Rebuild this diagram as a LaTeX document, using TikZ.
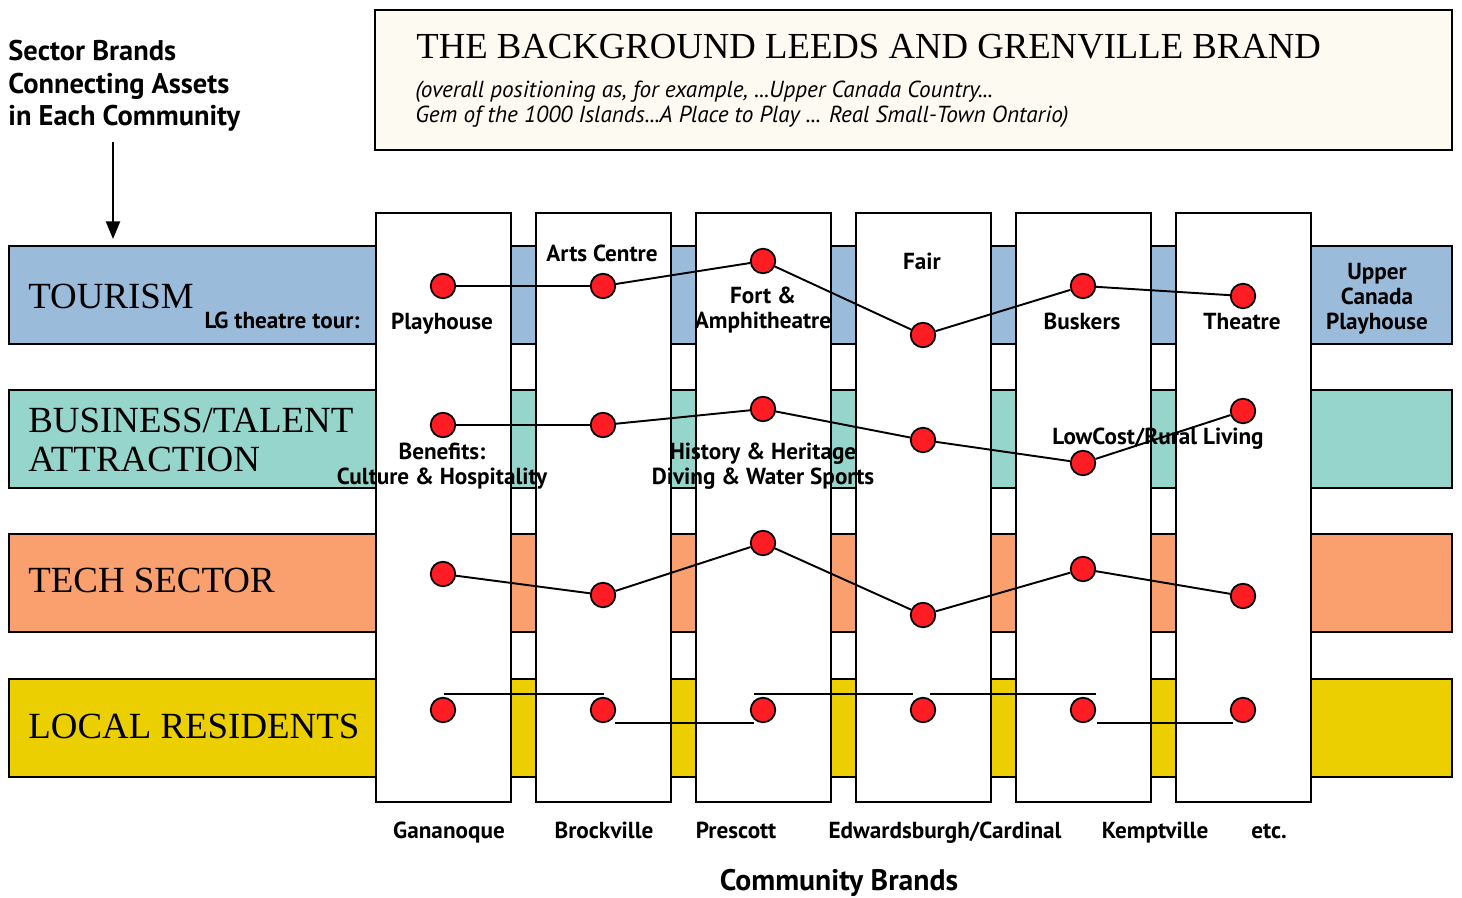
\documentclass[tikz,border=0pt]{standalone}
\usepackage{fontspec}
\setmainfont{PT Sans}
\newfontfamily\capsfont{Liberation Serif}
\usetikzlibrary{positioning, arrows, arrows.meta}

\definecolor{tourblue}{HTML}{9BBBDB}
\definecolor{bizteal}{HTML}{96D5CB}
\definecolor{techorange}{HTML}{F9A06E}
\definecolor{localyellow}{HTML}{EBCF00}
\definecolor{dotred}{HTML}{FF1C22}
\definecolor{paper}{HTML}{FCFAF1}

\newcommand{\capsize}{\capsfont\fontsize{21}{22}\selectfont}
\newcommand{\lblsize}{\bfseries\fontsize{13.2}{14}\selectfont}

\begin{document}
\begin{tikzpicture}[x=0.02cm, y=-0.02cm,
    band/.style={draw=black, line width=1.4pt},
    column/.style={draw=black, fill=white, line width=1.4pt},
    dot/.style={circle, draw=black, fill=dotred, line width=1pt, minimum size=14pt, inner sep=0pt},
    link/.style={black, line width=1.1pt},
    lbl/.style={font=\lblsize, inner sep=0pt, align=center, anchor=base},
    sector/.style={font=\capsize, inner sep=0pt, anchor=base west, align=left},
    town/.style={font=\lblsize, inner sep=0pt, anchor=base}]
    \useasboundingbox (0,0) rectangle (1462,898);
    %\draw[help lines] (0,0) grid[step=50] (1462,898);

    % title box
    \draw[band, fill=paper] (375,10) rectangle (1452,150);
    \node[anchor=base west, inner sep=0pt, font=\capsfont\fontsize{20.9}{24}\selectfont] (title)
        at (416,59) {THE BACKGROUND LEEDS AND GRENVILLE BRAND};
    \node[anchor=base west, inner sep=0pt, align=left, font=\itshape\fontsize{13.2}{14.7}\selectfont] (subtitle)
        at (415,123) {(overall positioning as, for example, ...Upper Canada Country...\\
        Gem of the 1000 Islands...A Place to Play ... Real Small-Town Ontario)};

    \node[anchor=base west, inner sep=0pt, align=left, font=\bfseries\fontsize{16.2}{18.6}\selectfont] (sectors)
        at (8,126) {Sector Brands\\Connecting Assets\\in Each Community};
    \coordinate (arrtop) at (113,142);
    \coordinate (arrbot) at (113,239);
    \draw[line width=1.1pt, -{Triangle[length=10pt, width=8pt]}] (arrtop) -- (arrbot);

    % sector bands
    \foreach \y/\c in {246/tourblue, 390/bizteal, 534/techorange, 679/localyellow}
    {%
        \draw[band, fill=\c] (9,\y) rectangle (1452,\y+98);
    }
    % community columns
    \foreach \i in {0,...,5}
    {%
        \pgfmathsetmacro{\xl}{376+160*\i}
        \pgfmathsetmacro{\xr}{\xl+135}
        \draw[column] (\xl,213) rectangle (\xr,802);
    }

    \node[sector] (tourism) at (28,308) {TOURISM};
    \node[sector] (business) at (28,471) {BUSINESS/TALENT\\ATTRACTION};
    \node[sector] (tech) at (28,592) {TECH SECTOR};
    \node[sector] (local) at (28,738) {LOCAL RESIDENTS};
    \node[lbl, anchor=base east] (tour) at (360,328) {LG theatre tour:};

    % asset dots
    \foreach \i/\y in {1/286, 2/286, 3/261, 4/335, 5/286, 6/296}
        \node[dot] (t\i) at ({443+160*(\i-1)},\y) {};
    \foreach \i/\y in {1/425, 2/425, 3/409, 4/440, 5/463, 6/411}
        \node[dot] (b\i) at ({443+160*(\i-1)},\y) {};
    \foreach \i/\y in {1/574, 2/595, 3/543, 4/615, 5/569, 6/596}
        \node[dot] (s\i) at ({443+160*(\i-1)},\y) {};
    \foreach \i in {1,...,6}
        \node[dot] (r\i) at ({443+160*(\i-1)},710) {};

    \draw[link] (t1) -- (t2) -- (t3) -- (t4) -- (t5) -- (t6);
    \draw[link] (b1) -- (b2) -- (b3) -- (b4) -- (b5) -- (b6);
    \draw[link] (s1) -- (s2) -- (s3) -- (s4) -- (s5) -- (s6);
    \draw[link] ([shift={(1,-16)}]r1.center) -- ([shift={(1,-16)}]r2.center);
    \draw[link] ([shift={(12,13)}]r2.center) -- ([shift={(-9,13)}]r3.center);
    \draw[link] ([shift={(-9,-16)}]r3.center) -- ([shift={(-10,-16)}]r4.center);
    \draw[link] ([shift={(7,-16)}]r4.center) -- ([shift={(13,-16)}]r5.center);
    \draw[link] ([shift={(14,13)}]r5.center) -- ([shift={(-10,13)}]r6.center);

    % asset names
    \node[lbl] (playhouse) at (442,329) {Playhouse};
    \node[lbl] (arts) at (602,261) {Arts Centre};
    \node[lbl] (fort) at (763,328) {Fort \&\\Amphitheatre};
    \node[lbl] (fair) at (922,270) {Fair};
    \node[lbl] (buskers) at (1082,329) {Buskers};
    \node[lbl] (theatre) at (1242,329) {Theatre};
    \node[lbl] (upper) at (1377,329) {Upper\\Canada\\Playhouse};
    \node[lbl] (benefits) at (442,484) {Benefits:\\Culture \& Hospitality};
    \node[lbl] (history) at (763,484) {History \& Heritage\\Diving \& Water Sports};
    \node[lbl] (lowcost) at (1158,444) {LowCost/Rural Living};

    % community names
    \node[town] (gan) at (449,838) {Gananoque};
    \node[town] (bro) at (604,838) {Brockville};
    \node[town] (pre) at (736,838) {Prescott};
    \node[town] (edw) at (945,838) {Edwardsburgh/Cardinal};
    \node[town] (kem) at (1155,838) {Kemptville};
    \node[town] (etc) at (1269,838) {etc.};
    \node[inner sep=0pt, anchor=base, font=\bfseries\fontsize{16.9}{18}\selectfont] (community) at (839,890) {Community Brands};
\end{tikzpicture}
\end{document}
